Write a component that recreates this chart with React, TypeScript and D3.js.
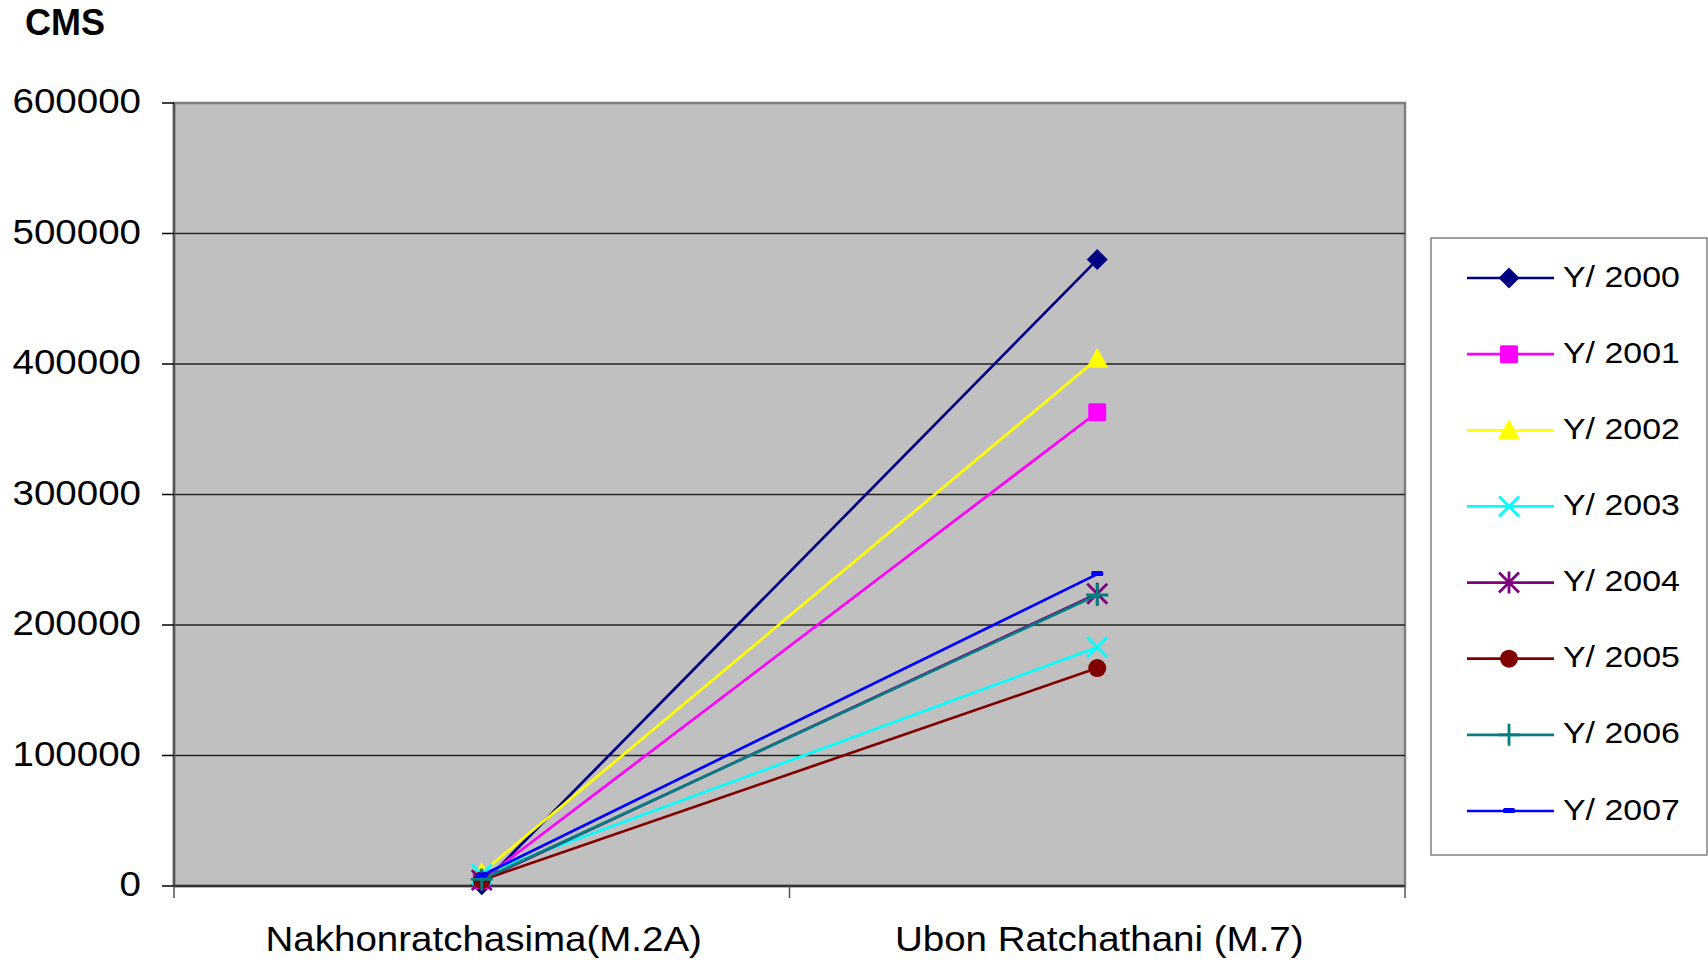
import React from 'react';
import * as d3 from 'd3';

const categories = ['Nakhonratchasima(M.2A)', 'Ubon Ratchathani (M.7)'];
const seriesNames = ['Y/ 2000', 'Y/ 2001', 'Y/ 2002', 'Y/ 2003', 'Y/ 2004', 'Y/ 2005', 'Y/ 2006', 'Y/ 2007'];
const seriesColors = ['#000080', '#FF00FF', '#FFFF00', '#00FFFF', '#800080', '#800000', '#008080', '#0000FF'];
const seriesMarkers = ['diamond', 'square', 'triangle', 'x', 'star', 'circle', 'plus', 'dash'];
// values per series: [Nakhonratchasima, Ubon]
const y2000 = [1000, 480000];
const y2001 = [4500, 363000];
const y2002 = [10000, 404000];
const y2003 = [9000, 183000];
const y2004 = [4500, 224000];
const y2005 = [4500, 167000];
const y2006 = [5000, 223000];
const y2007 = [8000, 239000];
const seriesValues = [y2000, y2001, y2002, y2003, y2004, y2005, y2006, y2007];
const yTicks = [0, 100000, 200000, 300000, 400000, 500000, 600000];

const FONT = '"Liberation Sans", Arial, sans-serif';

const Marker = ({ type, x, y, color }: { type: string; x: number; y: number; color: string }) => {
    const t = `translate(${x},${y})`;
    switch (type) {
        case 'diamond':
            return <path transform={t} d="M0,-10.5L10.5,0L0,10.5L-10.5,0Z" fill={color} />;
        case 'square':
            return <rect transform={t} x={-9} y={-9} width={18} height={18} rx={1.5} fill={color} />;
        case 'triangle':
            return <path transform={t} d="M0,-11L11,9L-11,9Z" fill={color} />;
        case 'x':
            return <path transform={t} d="M-10,-10L10,10M10,-10L-10,10" stroke={color} strokeWidth={2.8} />;
        case 'star':
            return <path transform={t} d="M-10,-10L10,10M10,-10L-10,10M0,-11L0,11" stroke={color} strokeWidth={2.8} />;
        case 'circle':
            return <circle cx={x} cy={y} r={9} fill={color} />;
        case 'plus':
            return <path transform={t} d="M-11,0L11,0M0,-11L0,11" stroke={color} strokeWidth={2.8} />;
        case 'dash':
            return <rect transform={t} x={-6} y={-3} width={12} height={5} rx={1.5} fill={color} />;
        default:
            return null;
    }
};

export default function App() {
    const left = 174, right = 1405, top = 103, bottom = 886;

    const x = d3.scalePoint<string>().domain(categories).range([left, right]).padding(0.5);
    const y = d3.scaleLinear().domain([0, 600000]).range([bottom, top]);
    const line = d3.line<number>()
        .x((_, i) => x(categories[i]) as number)
        .y(d => y(d));

    const midTick = (left + right) / 2;
    const legendY = d3.scaleLinear().domain([0, 7]).range([278, 811]);

    return (
        <svg width={1708} height={960} style={{ position: 'absolute', left: 0, top: 0, fontFamily: FONT }}>
            <rect x={0} y={0} width={1708} height={960} fill="#fff" />
            <text x={25} y={35} fontSize={36} fontWeight="bold">CMS</text>

            {/* plot area */}
            <rect x={left} y={top} width={right - left} height={bottom - top} fill="#C0C0C0" stroke="#808080" strokeWidth={2.5} />
            {yTicks.filter(t => t > 0 && t < 600000).map(t => (
                <line key={t} x1={left} x2={right} y1={y(t)} y2={y(t)} stroke="#222" strokeWidth={1.3} />
            ))}
            <line x1={left} x2={left} y1={top} y2={bottom} stroke="#555" strokeWidth={2.5} />
            <line x1={left} x2={right} y1={bottom} y2={bottom} stroke="#333" strokeWidth={2.5} />

            {/* y axis */}
            {yTicks.map(t => (
                <g key={t}>
                    <line x1={left - 12} x2={left} y1={y(t)} y2={y(t)} stroke="#000" strokeWidth={1.5} />
                    <text transform={`translate(141,${y(t) + 10}) scale(1.1,1)`} textAnchor="end" fontSize={35}>{t}</text>
                </g>
            ))}

            {/* x axis */}
            {[left, midTick, right].map((tx, i) => (
                <line key={i} x1={tx} x2={tx} y1={bottom} y2={bottom + 12} stroke="#555" strokeWidth={1.5} />
            ))}
            {categories.map(c => (
                <text key={c} transform={`translate(${(x(c) as number) + 2},951) scale(1.1,1)`} textAnchor="middle" fontSize={35}>{c}</text>
            ))}

            {/* series */}
            {seriesValues.map((vals, si) => (
                <g key={si}>
                    <path d={line(vals) as string} fill="none" stroke={seriesColors[si]} strokeWidth={2.7} />
                    {vals.map((v, i) => (
                        <Marker key={i} type={seriesMarkers[si]} x={x(categories[i]) as number} y={y(v)} color={seriesColors[si]} />
                    ))}
                </g>
            ))}

            {/* legend */}
            <rect x={1431} y={238} width={276} height={617} fill="#fff" stroke="#808080" strokeWidth={1.5} />
            {seriesNames.map((name, i) => (
                <g key={name}>
                    <line x1={1467} x2={1554} y1={legendY(i)} y2={legendY(i)} stroke={seriesColors[i]} strokeWidth={2.7} />
                    <Marker type={seriesMarkers[i]} x={1509} y={legendY(i)} color={seriesColors[i]} />
                    <text transform={`translate(1563,${legendY(i) + 8.5}) scale(1.13,1)`} fontSize={30}>{name}</text>
                </g>
            ))}
        </svg>
    );
}
